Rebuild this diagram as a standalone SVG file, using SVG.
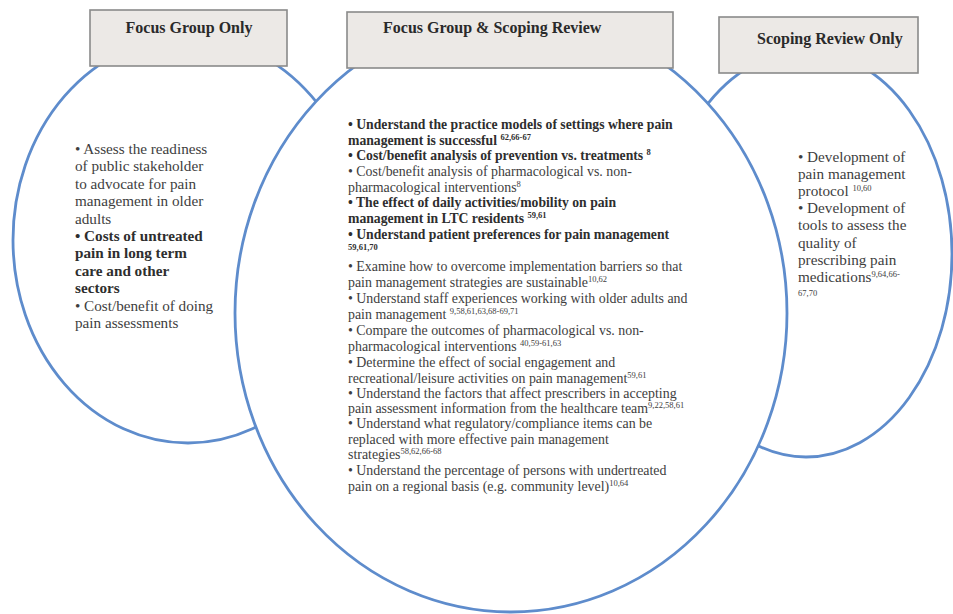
<svg xmlns="http://www.w3.org/2000/svg" width="953" height="614" viewBox="0 0 953 614">
<style>
.ell{fill:#ffffff;stroke:#5e8ccc;stroke-width:2.8}
.box{fill:#ece9e6;stroke:#8a8a8a;stroke-width:1.6}
.hd{font-family:"Liberation Serif","Times New Roman",serif;font-weight:bold;font-size:16px;fill:#2a2a2a}
.t{font-family:"Liberation Serif","Times New Roman",serif;fill:#3e3e3e}
.side{font-size:15.2px}
.mid{font-size:13.9px}
.b{font-weight:bold;fill:#2e2e2e}
.mid .b{font-size:13.7px}
.sup{font-size:8.5px}
.mid .sup{font-size:8.5px}
</style>
<rect width="953" height="614" fill="#ffffff"/>
<g id="connectors"></g>
<g id="scoping-review-only-circle">
<ellipse class="ell" cx="806" cy="254" rx="146" ry="203"/>
</g>
<g id="focus-group-only-circle">
<ellipse class="ell" cx="188" cy="240" rx="175" ry="203"/>
</g>
<g id="both-circle">
<ellipse class="ell" cx="511" cy="313" rx="276" ry="299"/>
</g>
<g id="focus-group-only">
<rect class="box" x="90" y="10" width="197" height="56"/>
<text class="hd" x="189" y="33" text-anchor="middle">Focus Group Only</text>
<g class="t side">
<text x="75" y="154">• Assess the readiness</text>
<text x="75" y="171.4">of public stakeholder</text>
<text x="75" y="188.8">to advocate for pain</text>
<text x="75" y="206.2">management in older</text>
<text x="75" y="223.6">adults</text>
<text class="b" x="75" y="241">• Costs of untreated</text>
<text class="b" x="75" y="258.4">pain in long term</text>
<text class="b" x="75" y="275.8">care and other</text>
<text class="b" x="75" y="293.2">sectors</text>
<text x="75" y="310.6">• Cost/benefit of doing</text>
<text x="75" y="328">pain assessments</text>
</g>
</g>
<g id="focus-group-and-scoping-review">
<rect class="box" x="347" y="12" width="326" height="56"/>
<text class="hd" x="383" y="33">Focus Group &amp; Scoping Review</text>
<g class="t mid">
<text class="b" x="348" y="129">• Understand the practice models of settings where pain</text>
<text class="b" x="348" y="144.5">management is successful <tspan class="sup" dy="-5">62,66-67</tspan></text>
<text class="b" x="348" y="160">• Cost/benefit analysis of prevention vs. treatments <tspan class="sup" dy="-5">8</tspan></text>
<text x="348" y="176">• Cost/benefit analysis of pharmacological vs. non-</text>
<text x="348" y="191.5">pharmacological interventions<tspan class="sup" dy="-5">8</tspan></text>
<text class="b" x="348" y="207">• The effect of daily activities/mobility on pain</text>
<text class="b" x="348" y="222.5">management in LTC residents <tspan class="sup" dy="-5">59,61</tspan></text>
<text class="b" x="348" y="239">• Understand patient preferences for pain management</text>
<text class="b sup" x="348" y="250">59,61,70</text>
<text x="348" y="271">• Examine how to overcome implementation barriers so that</text>
<text x="348" y="287">pain management strategies are sustainable<tspan class="sup" dy="-5">10,62</tspan></text>
<text x="348" y="303">• Understand staff experiences working with older adults and</text>
<text x="348" y="319">pain management <tspan class="sup" dy="-5">9,58,61,63,68-69,71</tspan></text>
<text x="348" y="335">• Compare the outcomes of pharmacological vs. non-</text>
<text x="348" y="351">pharmacological interventions <tspan class="sup" dy="-5">40,59-61,63</tspan></text>
<text x="348" y="367">• Determine the effect of social engagement and</text>
<text x="348" y="383">recreational/leisure activities on pain management<tspan class="sup" dy="-5">59,61</tspan></text>
<text x="348" y="397.5">• Understand the factors that affect prescribers in accepting</text>
<text x="348" y="412.5">pain assessment information from the healthcare team<tspan class="sup" dy="-5">9,22,58,61</tspan></text>
<text x="348" y="428">• Understand what regulatory/compliance items can be</text>
<text x="348" y="444">replaced with more effective pain management</text>
<text x="348" y="459">strategies<tspan class="sup" dy="-5">58,62,66-68</tspan></text>
<text x="348" y="475">• Understand the percentage of persons with undertreated</text>
<text x="348" y="491">pain on a regional basis (e.g. community level)<tspan class="sup" dy="-5">10,64</tspan></text>
</g>
</g>
<g id="scoping-review-only">
<rect class="box" x="719" y="17" width="199" height="56"/>
<text class="hd" x="757" y="44">Scoping Review Only</text>
<g class="t side">
<text x="798" y="162">• Development of</text>
<text x="798" y="179.1">pain management</text>
<text x="798" y="196.2">protocol <tspan class="sup" dy="-5">10,60</tspan></text>
<text x="798" y="213.3">• Development of</text>
<text x="798" y="230.4">tools to assess the</text>
<text x="798" y="247.5">quality of</text>
<text x="798" y="264.6">prescribing pain</text>
<text x="798" y="281.7">medications<tspan class="sup" dy="-5">9,64,66-</tspan></text>
<text class="sup" x="798" y="296">67,70</text>
</g>
</g>
</svg>
